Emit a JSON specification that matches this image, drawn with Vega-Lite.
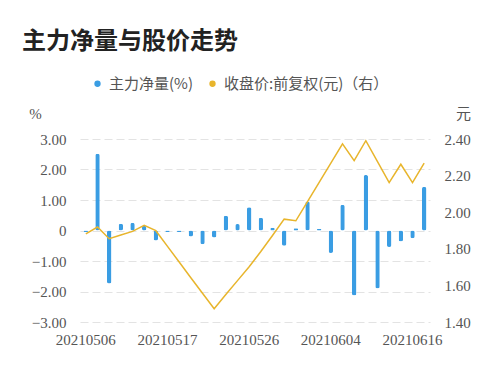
{
  "$schema": "https://vega.github.io/schema/vega-lite/v6.json",
  "autosize": {"type": "none"},
  "width": 350,
  "height": 183,
  "padding": {"left": 80, "top": 139, "right": 70, "bottom": 50},
  "background": "white",
  "title": {
    "text": "主力净量与股价走势",
    "anchor": "start",
    "frame": "group",
    "dx": -58,
    "offset": 22,
    "font": "Noto Sans CJK SC",
    "fontSize": 24,
    "fontWeight": "bold",
    "color": "#222222"
  },
  "data": {
    "values": [
      {"date": "20210506", "net": -0.05, "price": 1.882},
      {"date": "20210507", "net": 2.52, "price": 1.919},
      {"date": "20210510", "net": -1.74, "price": 1.855},
      {"date": "20210511", "net": 0.22, "price": 1.875},
      {"date": "20210512", "net": 0.25, "price": 1.895},
      {"date": "20210513", "net": 0.15, "price": 1.928},
      {"date": "20210514", "net": -0.33, "price": 1.899},
      {"date": "20210517", "net": -0.05, "price": 1.813},
      {"date": "20210518", "net": -0.05, "price": 1.728},
      {"date": "20210519", "net": -0.2, "price": 1.642},
      {"date": "20210520", "net": -0.45, "price": 1.557},
      {"date": "20210521", "net": -0.23, "price": 1.472},
      {"date": "20210524", "net": 0.48, "price": 1.55},
      {"date": "20210525", "net": 0.21, "price": 1.626},
      {"date": "20210526", "net": 0.76, "price": 1.702},
      {"date": "20210527", "net": 0.42, "price": 1.785},
      {"date": "20210528", "net": 0.09, "price": 1.873},
      {"date": "20210531", "net": -0.5, "price": 1.962},
      {"date": "20210601", "net": 0.07, "price": 1.953},
      {"date": "20210602", "net": 0.95, "price": 2.058},
      {"date": "20210603", "net": 0.05, "price": 2.163},
      {"date": "20210604", "net": -0.74, "price": 2.268},
      {"date": "20210607", "net": 0.84, "price": 2.373},
      {"date": "20210608", "net": -2.13, "price": 2.282},
      {"date": "20210609", "net": 1.82, "price": 2.391},
      {"date": "20210610", "net": -1.9, "price": 2.276},
      {"date": "20210611", "net": -0.54, "price": 2.162},
      {"date": "20210615", "net": -0.36, "price": 2.262},
      {"date": "20210616", "net": -0.25, "price": 2.162},
      {"date": "20210617", "net": 1.43, "price": 2.268}
    ]
  },
  "encoding": {
    "x": {
      "field": "date",
      "type": "ordinal",
      "sort": null,
      "scale": {"paddingInner": 0.62, "paddingOuter": 0.31},
      "axis": {
        "title": null,
        "labelAngle": 0,
        "values": ["20210506", "20210517", "20210526", "20210604", "20210616"],
        "domain": false,
        "ticks": false,
        "grid": false,
        "labelPadding": 10,
        "labelFont": "Liberation Serif",
        "labelFontSize": 15,
        "labelColor": "#555555"
      }
    }
  },
  "layer": [
    {
      "mark": {"type": "bar", "cornerRadius": 2},
      "encoding": {
        "y": {
          "field": "net",
          "type": "quantitative",
          "scale": {"domain": [-3, 3], "nice": false, "zero": true},
          "axis": {
            "values": [-3, -2, -1, 0, 1, 2, 3],
            "labelExpr": "datum.value == 0 ? '0' : format(datum.value, '.2f')",
            "title": "%",
            "titleAngle": 0,
            "titleX": -45,
            "titleY": -26,
            "titleAlign": "center",
            "titleBaseline": "middle",
            "titleFont": "Liberation Serif",
            "titleFontSize": 15,
            "titleFontWeight": "normal",
            "titleColor": "#555555",
            "domain": false,
            "ticks": false,
            "labelPadding": 14,
            "labelFont": "Liberation Serif",
            "labelFontSize": 15,
            "labelColor": "#555555",
            "grid": true,
            "gridColor": "#e3e3e3",
            "gridDash": [8, 4],
            "gridWidth": 1
          }
        },
        "color": {
          "datum": "主力净量(%)",
          "type": "nominal",
          "scale": {
            "domain": ["主力净量(%)", "收盘价:前复权(元)（右）"],
            "range": ["#3A9DE3", "#E8B52C"]
          },
          "legend": {
            "title": null,
            "orient": "none",
            "legendX": 10,
            "legendY": -63,
            "direction": "horizontal",
            "symbolType": "circle",
            "symbolSize": 40,
            "symbolStrokeWidth": 0,
            "labelFont": "Noto Sans CJK SC",
            "labelFontSize": 15,
            "labelColor": "#555555",
            "labelLimit": 0,
            "columnPadding": 12,
            "labelOffset": 4
          }
        }
      }
    },
    {
      "mark": {"type": "line", "strokeWidth": 1.5},
      "encoding": {
        "y": {
          "field": "price",
          "type": "quantitative",
          "scale": {"domain": [1.4, 2.4], "nice": false, "zero": false},
          "axis": {
            "orient": "right",
            "values": [1.4, 1.6, 1.8, 2.0, 2.2, 2.4],
            "format": ".2f",
            "title": "元",
            "titleAngle": 0,
            "titleX": 33,
            "titleY": -26,
            "titleAlign": "center",
            "titleBaseline": "middle",
            "titleFont": "Noto Sans CJK SC",
            "titleFontSize": 15,
            "titleFontWeight": "normal",
            "titleColor": "#555555",
            "domain": false,
            "ticks": false,
            "grid": false,
            "labelPadding": 14,
            "labelFont": "Liberation Serif",
            "labelFontSize": 15,
            "labelColor": "#555555"
          }
        },
        "color": {"datum": "收盘价:前复权(元)（右）", "type": "nominal"}
      }
    }
  ],
  "resolve": {"scale": {"y": "independent"}},
  "config": {"view": {"stroke": null}}
}
